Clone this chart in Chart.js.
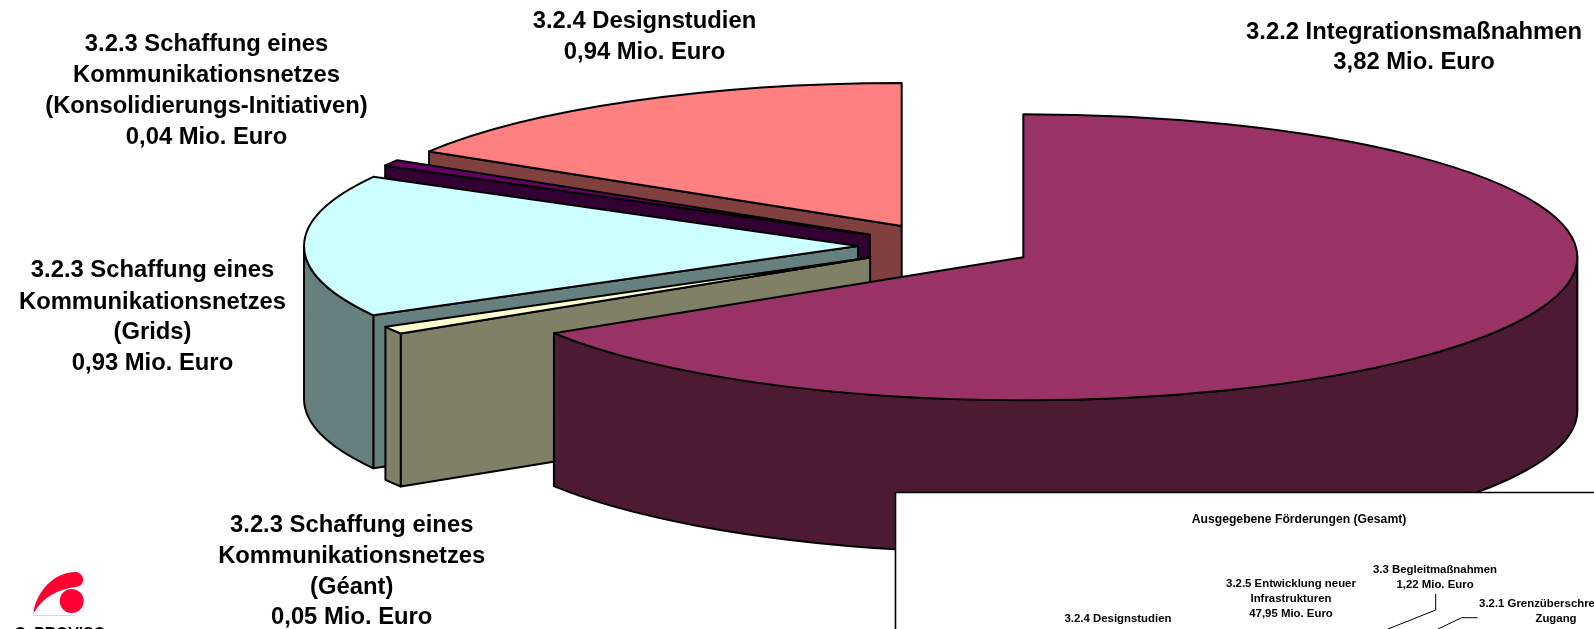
<!DOCTYPE html>
<html lang="de">
<head>
<meta charset="utf-8">
<title>Ausgegebene Förderungen</title>
<style>html,body{margin:0;padding:0;background:#fff;overflow:hidden}canvas{display:block}</style>
<script src="https://cdn.jsdelivr.net/npm/chart.js@4"></script>
</head>
<body>
<canvas id="c" width="1594" height="629"></canvas>
<script>
const categories = ['3.2.2 Integrationsmaßnahmen','3.2.3 Schaffung eines Kommunikationsnetzes (Géant)','3.2.3 Schaffung eines Kommunikationsnetzes (Grids)','3.2.3 Schaffung eines Kommunikationsnetzes (Konsolidierungs-Initiativen)','3.2.4 Designstudien'];
const values = [3.82, 0.05, 0.93, 0.04, 0.94];
const topColors = ['#993366','#FFFFCC','#CCFFFF','#660066','#FF8080'];
const wallColors = ['#4D1A33','#808066','#668080','#330033','#804040'];
const explode = [32.2, 31.5, 31.5, 31.5, 32.2];

const labelFont = 'bold 23.8px "Liberation Sans", Arial, sans-serif';
const insetTitleFont = 'bold 12.2px "Liberation Sans", Arial, sans-serif';
const insetFont = 'bold 11.4px "Liberation Sans", Arial, sans-serif';
const mainLabels = [
  {x:1414, ys:[32,62.5], lines:['3.2.2 Integrationsmaßnahmen','3,82 Mio. Euro']},
  {x:644.5, ys:[21,52.5], lines:['3.2.4 Designstudien','0,94 Mio. Euro']},
  {x:206.5, ys:[44.2,75.5,106.2,137.5], lines:['3.2.3 Schaffung eines','Kommunikationsnetzes','(Konsolidierungs-Initiativen)','0,04 Mio. Euro']},
  {x:152.5, ys:[270.9,302.5,332.9,363.5], lines:['3.2.3 Schaffung eines','Kommunikationsnetzes','(Grids)','0,93 Mio. Euro']},
  {x:351.7, ys:[525,556.5,587,617.5], lines:['3.2.3 Schaffung eines','Kommunikationsnetzes','(Géant)','0,05 Mio. Euro']}
];
const insetTitle = {x:1299, y:520, text:'Ausgegebene Förderungen (Gesamt)'};
const insetLabels = [
  {x:1435, ys:[569.5,584.5], lines:['3.3 Begleitmaßnahmen','1,22 Mio. Euro']},
  {x:1291, ys:[584,599,613.5], lines:['3.2.5 Entwicklung neuer','Infrastrukturen','47,95 Mio. Euro']},
  {x:1118, ys:[618.5,633.5], lines:['3.2.4 Designstudien','0,94 Mio. Euro']},
  {x:1556, ys:[603.5,618.5,633.5], lines:['3.2.1 Grenzüberschreitender','Zugang','4,41 Mio. Euro']}
];

const ARC_RADIUS = 200;   // library-space radius
const SX = 554 / ARC_RADIUS, SY = 143 / ARC_RADIUS, DEPTH = 153;  // tilt of the pie

const pie3d = {
  id: 'pie3d',
  beforeDatasetsDraw(chart) {
    const ctx = chart.ctx;
    const arcs = chart.getDatasetMeta(0).data;
    for (let i = arcs.length - 1; i >= 0; i--) {
      const a = arcs[i];
      const p = a.getProps(['x','y','startAngle','endAngle','outerRadius']);
      const mid = (p.startAngle + p.endAngle) / 2;
      const off = a.options.offset;
      const cx = p.x + Math.cos(mid) * off * SX;
      const cy = p.y + Math.sin(mid) * off * SY;
      const rx = p.outerRadius * SX, ry = p.outerRadius * SY;
      const rim = t => [cx + Math.cos(t) * rx, cy + Math.sin(t) * ry];
      ctx.save();
      ctx.lineJoin = 'round';
      ctx.lineWidth = 2;
      ctx.strokeStyle = '#000';
      ctx.fillStyle = wallColors[i];
      const paint = () => { ctx.fill(); ctx.stroke(); };
      const cut = t => {
        const [ex, ey] = rim(t);
        ctx.beginPath();
        ctx.moveTo(cx, cy); ctx.lineTo(ex, ey);
        ctx.lineTo(ex, ey + DEPTH); ctx.lineTo(cx, cy + DEPTH);
        ctx.closePath(); paint();
      };
      if (Math.cos(p.startAngle) < -1e-6) cut(p.startAngle);
      if (Math.cos(p.endAngle) > 1e-6) cut(p.endAngle);
      // outer wall: the part of the rim that faces the viewer
      const from = Math.max(p.startAngle, 0), to = Math.min(p.endAngle, Math.PI);
      if (to > from) {
        ctx.beginPath();
        ctx.ellipse(cx, cy, rx, ry, 0, from, to);
        ctx.ellipse(cx, cy + DEPTH, rx, ry, 0, to, from, true);
        ctx.closePath(); paint();
      }
      // top face, from the library's arc angles and radius
      ctx.fillStyle = a.options.backgroundColor;
      ctx.beginPath();
      ctx.moveTo(cx, cy);
      ctx.ellipse(cx, cy, rx, ry, 0, p.startAngle, p.endAngle);
      ctx.closePath();
      paint();
      ctx.restore();
    }
    return false;
  },
  afterDraw(chart) {
    const ctx = chart.ctx;
    ctx.save();
    // inset panel
    ctx.fillStyle = '#fff'; ctx.strokeStyle = '#000'; ctx.lineWidth = 1.6;
    ctx.beginPath(); ctx.rect(895.5, 492.5, 800, 300); ctx.fill(); ctx.stroke();
    // inset leader lines
    ctx.lineWidth = 1;
    ctx.beginPath();
    ctx.moveTo(1435.7, 594); ctx.lineTo(1435.7, 610); ctx.lineTo(1388, 629);
    ctx.moveTo(1477.7, 617.7); ctx.lineTo(1461.7, 617.7); ctx.lineTo(1438, 629);
    ctx.stroke();
    // logo
    ctx.fillStyle = '#FF0033';
    ctx.beginPath();
    ctx.moveTo(33.5, 612);
    ctx.bezierCurveTo(37, 590, 55, 572, 76, 572);
    ctx.bezierCurveTo(85, 573, 86, 586, 76, 587);
    ctx.bezierCurveTo(58, 589, 42, 598, 34.5, 612);
    ctx.closePath(); ctx.fill();
    ctx.beginPath(); ctx.arc(71.7, 601, 12, 0, Math.PI * 2); ctx.fill();
    ctx.strokeStyle = '#FBC8D2'; ctx.lineWidth = 1;
    ctx.beginPath(); ctx.moveTo(33.5, 606); ctx.lineTo(33.5, 615.5); ctx.lineTo(75, 615.5); ctx.stroke();
    // text
    ctx.fillStyle = '#000'; ctx.textAlign = 'center'; ctx.textBaseline = 'middle';
    ctx.font = labelFont;
    mainLabels.forEach(l => l.lines.forEach((t, k) => ctx.fillText(t, l.x, l.ys[k])));
    ctx.font = insetTitleFont;
    ctx.fillText(insetTitle.text, insetTitle.x, insetTitle.y);
    ctx.font = insetFont;
    insetLabels.forEach(l => l.lines.forEach((t, k) => ctx.fillText(t, l.x, l.ys[k])));
    ctx.textBaseline = 'alphabetic';
    ctx.font = 'bold 15.7px "Liberation Sans", Arial, sans-serif';
    ctx.fillText('C. PROVISO', 60, 638.8);
    ctx.restore();
  }
};

new Chart(document.getElementById('c'), {
  type: 'pie',
  plugins: [pie3d],
  data: {
    labels: categories,
    datasets: [{ data: values, backgroundColor: topColors, borderWidth: 0, offset: explode, hoverOffset: 0 }]
  },
  options: {
    responsive: false,
    animation: false,
    radius: ARC_RADIUS,
    events: [],
    layout: { padding: { left: 296.6, right: 0, top: 0, bottom: 136.8 } },
    plugins: { legend: { display: false }, title: { display: false }, tooltip: { enabled: false } }
  }
});
</script>
</body>
</html>
